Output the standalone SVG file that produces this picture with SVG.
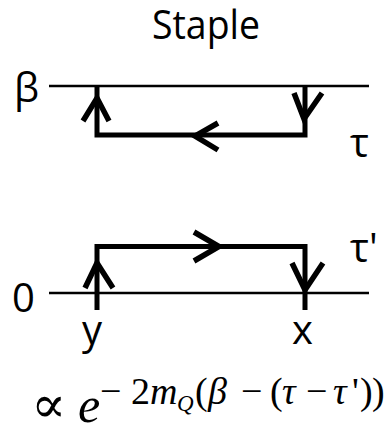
<svg xmlns="http://www.w3.org/2000/svg" width="385" height="428" viewBox="0 0 385 428">
<style>
.axis{stroke:#000;stroke-width:2.5;fill:none}
.path{stroke:#000;stroke-width:5;fill:none;stroke-linejoin:miter;stroke-linecap:butt}
.head{stroke:#000;stroke-width:5.5;fill:none;stroke-linejoin:miter}
.lbl{font-family:"Open Sans","Liberation Sans",sans-serif;font-size:40px;fill:#000}
.m{font-family:"Liberation Serif","DejaVu Serif",serif;fill:#000}
.i{font-style:italic}
</style>
<rect width="385" height="428" fill="#fff"/>
<g id="title"><text class="lbl" x="152" y="39" font-size="37" textLength="108" lengthAdjust="spacingAndGlyphs">Staple</text></g>
<g id="axes">
<line class="axis" x1="49" y1="86" x2="369" y2="86"/>
<line class="axis" x1="49" y1="293" x2="369" y2="293"/>
</g>
<g id="connectors">
<polyline class="path" points="97,86 97,135 305,135 305,86"/>
<polyline class="path" points="97,310 97,246.5 305,246.5 305,310"/>
<polyline class="head" points="83,121 97,98 109,121"/>
<polyline class="head" points="294,93 304,119 322,93"/>
<polyline class="head" points="218,123 195,136 218,150"/>
<polyline class="head" points="194,232 219,246.5 194,261"/>
<polyline class="head" points="85,288 97,263 113,288"/>
<polyline class="head" points="292,263 305,290 323,263"/>
</g>
<g id="labels">
<text class="lbl" x="14" y="102">β</text>
<text class="lbl" x="350" y="157">τ</text>
<text class="lbl" x="350" y="262">τ'</text>
<text class="lbl" x="12" y="312">0</text>
<text class="lbl" x="82" y="344">y</text>
<text class="lbl" x="292" y="344">x</text>
</g>
<g id="formula">
<text class="m" x="31" y="422" font-size="52">∝</text>
<text class="m i" x="78" y="422" font-size="50">e</text>
<text class="m" y="404" font-size="38"><tspan x="100">−</tspan><tspan x="131">2</tspan><tspan class="i" x="150">m</tspan><tspan class="i" x="177" y="411" font-size="23">Q</tspan><tspan x="195" y="404">(</tspan><tspan class="i" x="208">β</tspan><tspan x="241">−</tspan><tspan x="270">(</tspan><tspan class="i" x="282">τ</tspan><tspan x="306">−</tspan><tspan class="i" x="333">τ</tspan><tspan x="352">'</tspan><tspan x="360">)</tspan><tspan x="372">)</tspan></text>
</g>
</svg>
